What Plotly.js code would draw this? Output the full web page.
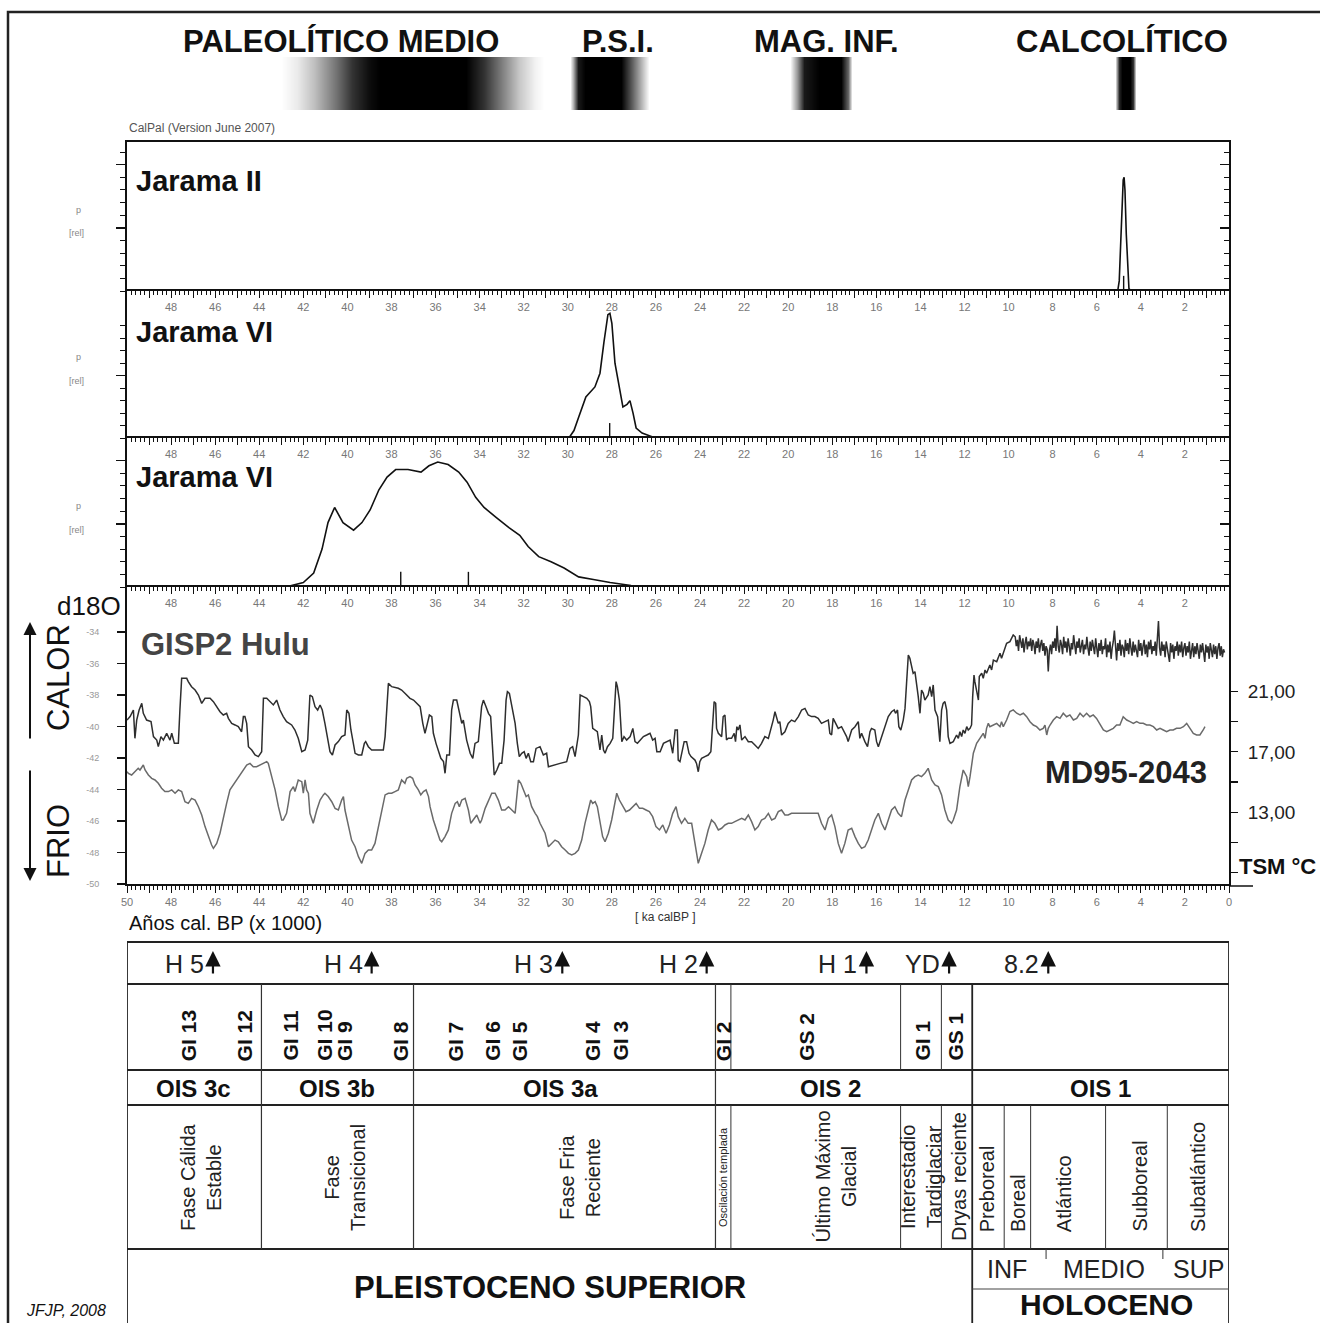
<!DOCTYPE html>
<html><head><meta charset="utf-8">
<script src="https://cdn.plot.ly/plotly-3.0.1.min.js"></script>
<style>html,body{margin:0;padding:0;background:#fff}</style>
</head><body>
<div id="chart" style="width:1320px;height:1323px"></div>
<script>
// ================= DATA =================
// Cultural periods (top gradient bars): age (ka cal BP) and shade intensity (0 white - 1 black)
const culturalNames = ['PALEOLÍTICO MEDIO', 'P.S.I.', 'MAG. INF.', 'CALCOLÍTICO'];
const culturalLabelAge = [40.3, 27.7, 18.24, 4.85];
const barAge   = [50, 43.0, 42.3, 41.5, 40.5, 39.8, 39.0, 38.5, 34.6, 33.8, 33.0, 32.2, 31.5, 31.1, 29.9, 29.75, 29.55, 29.2, 27.6, 27.2, 26.7, 26.3, 19.9, 19.6, 19.3, 18.6, 17.6, 17.3, 17.1, 5.15, 5.0, 4.85, 4.5, 4.35, 4.2, 0];
const barShade = [0, 0, 0.08, 0.25, 0.55, 0.8, 0.95, 1, 1, 0.8, 0.5, 0.22, 0.05, 0, 0, 0.3, 0.9, 1, 1, 0.7, 0.3, 0, 0, 0.4, 0.9, 1, 1, 0.6, 0, 0, 0.85, 1, 1, 0.8, 0, 0];

// Calibrated probability densities (relative)
const jarama2Age = [5.05, 4.98, 4.92, 4.86, 4.8, 4.76, 4.72, 4.66, 4.6, 4.54, 4.45];
const jarama2P   = [0, 0.08, 0.35, 0.65, 0.88, 0.9, 0.8, 0.45, 0.15, 0.02, 0];
const jarama2Median = [4.78];

const jarama6aAge = [29.95, 29.72, 29.5, 29.18, 28.77, 28.54, 28.36, 28.18, 28.09, 28.0, 27.86, 27.68, 27.5, 27.31, 27.18, 27.04, 26.9, 26.63, 26.18, 25.82];
const jarama6aP   = [0, 0.06, 0.17, 0.33, 0.41, 0.52, 0.77, 0.99, 1.0, 0.92, 0.6, 0.41, 0.25, 0.27, 0.30, 0.2, 0.08, 0.04, 0.01, 0];
const jarama6aMedian = [28.1];

const jarama6bAge = [42.8, 42.0, 41.53, 41.15, 40.88, 40.58, 40.2, 39.72, 39.34, 38.97, 38.57, 38.2, 37.81, 37.25, 36.66, 36.3, 35.9, 35.43, 34.95, 34.57, 34.18, 33.8, 33.24, 32.67, 32.18, 31.8, 31.32, 30.76, 30.17, 29.51, 28.84, 28.08, 27.13, 25.8];
const jarama6bP   = [0, 0.035, 0.11, 0.3, 0.51, 0.63, 0.51, 0.45, 0.51, 0.61, 0.77, 0.87, 0.93, 0.93, 0.91, 0.96, 0.99, 0.97, 0.91, 0.83, 0.71, 0.63, 0.55, 0.47, 0.41, 0.32, 0.24, 0.2, 0.15, 0.08, 0.06, 0.035, 0.012, 0];
const jarama6bMedian = [37.58, 34.51];

// GISP2 d18O (per mil) : [age ka, d18O]
const gisp2Series = [
[50.0,-39.59],[49.86,-39.37],[49.71,-38.95],[49.64,-40.75],[49.56,-39.59],[49.45,-38.95],[49.33,-38.53],[49.26,-39.16],[49.11,-39.59],[48.91,-39.69],[48.8,-40.64],[48.65,-40.86],[48.58,-41.28],[48.46,-40.64],[48.35,-40.86],[48.2,-40.43],[48.05,-40.86],[47.97,-40.43],[47.85,-41.07],[47.67,-41.07],[47.6,-38.95],[47.52,-36.94],[47.29,-36.94],[47.22,-37.15],[47.07,-37.47],[46.91,-37.68],[46.76,-38.0],[46.61,-38.53],[46.46,-38.21],[46.23,-38.21],[46.08,-38.42],[45.93,-38.74],[45.78,-39.06],[45.63,-39.27],[45.48,-39.16],[45.4,-39.48],[45.25,-39.8],[45.1,-39.9],[44.95,-40.01],[44.8,-40.33],[44.72,-39.37],[44.65,-39.37],[44.57,-39.8],[44.49,-41.28],[44.34,-41.49],[44.19,-41.81],[44.04,-41.91],[43.89,-41.6],[43.81,-38.21],[43.66,-38.21],[43.51,-38.42],[43.36,-38.63],[43.21,-38.32],[43.06,-38.95],[42.91,-39.37],[42.76,-39.69],[42.53,-39.9],[42.38,-40.22],[42.23,-40.75],[42.07,-41.6],[41.92,-41.49],[41.8,-40.86],[41.7,-38.0],[41.59,-38.1],[41.47,-38.74],[41.35,-38.95],[41.24,-38.63],[41.14,-38.95],[41.02,-39.8],[40.94,-40.43],[40.87,-40.86],[40.79,-41.6],[40.68,-41.81],[40.56,-41.17],[40.41,-40.96],[40.26,-40.64],[40.11,-40.54],[40.03,-38.95],[39.93,-39.16],[39.84,-40.22],[39.73,-41.07],[39.65,-41.7],[39.5,-41.81],[39.35,-41.81],[39.23,-41.07],[39.17,-40.96],[39.05,-41.28],[38.9,-41.49],[38.37,-41.49],[38.29,-40.64],[38.14,-37.26],[37.99,-37.47],[37.69,-37.57],[37.54,-37.68],[37.39,-37.89],
[37.31,-38.0],[37.16,-38.21],[37.0,-38.32],[36.85,-38.53],[36.7,-38.74],[36.58,-39.8],[36.48,-40.43],[36.37,-39.8],[36.28,-39.27],[36.17,-39.37],[36.1,-40.43],[35.98,-41.07],[35.87,-41.49],[35.76,-42.02],[35.64,-42.23],[35.57,-42.97],[35.49,-41.81],[35.37,-41.81],[35.27,-38.95],[35.19,-38.32],[35.04,-38.32],[34.92,-39.16],[34.81,-39.8],[34.74,-39.59],[34.66,-40.43],[34.59,-40.86],[34.43,-41.7],[34.31,-42.02],[34.21,-41.07],[34.06,-40.96],[33.91,-38.74],[33.83,-38.32],[33.71,-38.74],[33.6,-39.16],[33.5,-39.37],[33.41,-41.91],[33.34,-43.08],[33.22,-42.76],[33.1,-42.34],[33.0,-42.34],[32.89,-40.86],[32.8,-38.32],[32.74,-37.79],[32.65,-37.89],[32.54,-38.74],[32.39,-39.8],[32.29,-41.07],[32.2,-41.91],[32.09,-41.7],[31.98,-41.6],[31.89,-42.02],[31.79,-41.7],[31.68,-42.23],[31.56,-42.23],[31.44,-41.39],[31.26,-41.28],[31.11,-41.81],[30.96,-41.7],[30.88,-42.55],[30.65,-42.44],[30.35,-42.34],[30.05,-42.23],[29.9,-41.39],[29.78,-41.28],[29.67,-41.91],[29.52,-40.54],[29.44,-38.0],[29.29,-38.1],[29.14,-38.21],[29.02,-38.42],[28.96,-38.74],[28.87,-40.12],[28.76,-40.22],[28.66,-40.33],[28.54,-41.49],[28.46,-40.54],[28.38,-41.49],[28.31,-41.7],[28.2,-41.28],[28.08,-41.07],[27.96,-40.75],[27.86,-37.68],[27.81,-37.15],[27.75,-37.47],[27.66,-38.32],[27.55,-40.96],[27.45,-40.64],[27.33,-40.86],[27.17,-40.64],[27.05,-40.12],[26.95,-40.96],[26.84,-41.07],[26.72,-40.86],[26.57,-40.64],[26.42,-40.54],[26.27,-40.43],[26.15,-40.86],[26.04,-40.75],[25.96,-41.6],[25.81,-41.6],[25.66,-41.07],[25.51,-40.96],[25.36,-40.86],[25.24,-41.7],[25.13,-40.22],[25.03,-40.22],
[24.99,-42.13],[24.91,-42.23],[24.81,-41.49],[24.72,-40.96],[24.61,-40.96],[24.5,-41.7],[24.41,-41.91],[24.31,-42.02],[24.23,-42.13],[24.16,-42.34],[24.08,-42.87],[24.01,-42.23],[23.93,-42.02],[23.78,-41.91],[23.63,-41.81],[23.51,-41.6],[23.45,-40.01],[23.36,-38.42],[23.29,-38.53],[23.25,-40.12],[23.17,-40.43],[23.02,-40.64],[22.95,-39.37],[22.87,-39.27],[22.8,-40.86],[22.72,-40.75],[22.57,-40.75],[22.45,-40.43],[22.39,-40.96],[22.33,-40.01],[22.27,-40.22],[22.19,-39.9],[22.11,-40.86],[21.96,-40.64],[21.81,-40.96],[21.66,-40.96],[21.51,-41.17],[21.36,-41.39],[21.21,-41.07],[21.06,-40.64],[20.9,-40.75],[20.75,-40.01],[20.68,-39.59],[20.6,-39.06],[20.53,-39.37],[20.45,-39.8],[20.38,-39.69],[20.3,-40.54],[20.15,-40.33],[20.0,-39.8],[19.85,-39.59],[19.7,-39.69],[19.54,-39.37],[19.39,-38.95],[19.24,-38.85],[19.09,-39.27],[18.94,-39.37],[18.79,-39.37],[18.64,-39.48],[18.49,-39.8],[18.33,-39.69],[18.18,-39.59],[18.11,-40.43],[18.03,-40.54],[17.96,-39.48],[17.81,-39.9],[17.73,-40.12],[17.58,-40.01],[17.43,-40.43],[17.35,-40.64],[17.28,-40.96],[17.12,-40.22],[16.97,-40.01],[16.82,-39.69],[16.75,-40.75],[16.67,-40.43],[16.52,-40.96],[16.4,-41.28],[16.29,-40.33],[16.22,-40.12],[16.07,-40.22],[15.99,-40.96],[15.91,-41.28],[15.76,-40.64],[15.61,-40.12],[15.46,-39.37],[15.31,-39.06],[15.19,-38.95],[15.13,-39.16],[15.04,-38.95],[14.98,-40.01],[14.89,-40.22],[14.78,-39.59],[14.7,-38.85],[14.63,-37.26],[14.55,-35.46],[14.48,-35.67],[14.4,-36.09],[14.33,-36.62],[14.25,-36.52],[14.18,-37.47],[14.1,-38.1],[14.02,-39.16],[13.95,-37.68],[13.87,-37.89],[13.8,-38.32],[13.65,-38.0],[13.57,-37.47],[13.49,-38.1],[13.42,-37.36],[13.34,-38.95],[13.22,-39.37],[13.12,-40.96],[13.04,-38.95],[12.97,-38.53],[12.89,-38.42],[12.81,-38.95],[12.74,-40.64],[12.66,-41.07],
[12.51,-40.96],[12.36,-40.54],[12.28,-40.75],[12.21,-40.33],[12.13,-40.64],[12.06,-40.22],[11.98,-40.43],[11.9,-40.01],[11.83,-40.22],[11.75,-40.12],[11.68,-39.9],[11.63,-38.1],[11.57,-36.73],[11.53,-37.15],[11.45,-37.68],[11.37,-38.32],[11.33,-36.83],[11.22,-36.62],[11.15,-36.94],[11.07,-36.41],[11.0,-36.62],[10.92,-36.3],[10.85,-36.09],[10.77,-36.41],[10.69,-35.78],[10.54,-35.88],[10.39,-35.35],[10.32,-35.67],[10.16,-34.93],[10.09,-34.72],[9.94,-34.61],[9.79,-34.19],
[9.7,-34.3],[9.65,-34.9],[9.6,-34.5],[9.55,-35.2],[9.5,-34.2],[9.45,-34.6],[9.4,-35.0],[9.35,-34.4],[9.3,-35.3],[9.25,-34.7],[9.2,-34.3],[9.15,-35.1],[9.1,-34.6],[9.05,-34.9],[9.0,-34.4],[8.95,-35.2],[8.9,-34.5],[8.85,-34.8],[8.8,-35.4],[8.75,-34.6],[8.7,-35.0],[8.65,-34.4],[8.6,-35.3],[8.55,-34.8],[8.5,-34.5],[8.45,-35.2],[8.4,-34.7],[8.35,-35.5],[8.3,-34.9],[8.25,-35.1],[8.2,-36.5],[8.15,-35.2],[8.1,-34.8],[8.05,-35.4],[8.0,-34.6],[7.95,-35.0],[7.9,-34.4],[7.85,-35.2],[7.8,-33.6],[7.75,-34.9],[7.7,-35.3],[7.65,-34.5],[7.6,-34.8],[7.55,-35.4],[7.5,-34.3],[7.45,-35.0],[7.4,-34.6],[7.35,-35.3],[7.3,-34.4],[7.25,-34.9],[7.2,-35.5],[7.15,-34.7],[7.1,-35.1],[7.05,-34.2],[7.0,-34.8],[6.95,-35.4],[6.9,-34.6],[6.85,-35.0],[6.8,-34.4],[6.75,-35.3],[6.7,-34.9],[6.65,-34.5],[6.6,-35.4],[6.55,-34.8],[6.5,-35.1],[6.45,-34.3],[6.4,-35.0],[6.35,-35.5],[6.3,-34.6],[6.25,-35.2],[6.2,-34.5],[6.15,-34.9],[6.1,-35.4],[6.05,-34.4],[6.0,-35.0],[5.95,-35.6],[5.9,-34.7],[5.85,-35.2],[5.8,-34.5],[5.75,-35.4],[5.7,-34.9],[5.65,-35.1],[5.6,-34.4],[5.55,-35.6],[5.5,-34.8],[5.45,-35.3],[5.4,-34.6],[5.35,-35.7],[5.3,-35.0],[5.25,-34.6],[5.2,-33.9],[5.15,-35.0],[5.1,-35.8],[5.05,-34.7],[5.0,-35.2],[4.95,-34.5],[4.9,-35.5],[4.85,-34.8],[4.8,-35.0],[4.75,-35.6],[4.7,-34.5],[4.65,-35.2],[4.6,-34.7],[4.55,-35.4],[4.5,-34.4],[4.45,-35.0],[4.4,-35.5],[4.35,-34.6],[4.3,-35.3],[4.25,-34.8],[4.2,-35.1],[4.15,-35.6],[4.1,-34.5],[4.05,-35.2],[4.0,-34.7],[3.95,-35.5],[3.9,-34.9],[3.85,-34.5],[3.8,-35.4],[3.75,-34.8],[3.7,-35.6],[3.65,-34.6],[3.6,-35.1],[3.55,-34.5],[3.5,-35.4],[3.45,-34.9],[3.4,-35.2],[3.35,-34.6],[3.3,-35.5],[3.25,-34.4],[3.2,-33.3],[3.15,-35.0],[3.1,-35.5],[3.05,-34.6],[3.0,-35.2],[2.95,-34.8],[2.9,-35.6],[2.85,-34.6],[2.8,-35.1],[2.75,-35.4],[2.7,-35.9],[2.65,-34.7],[2.6,-35.3],[2.55,-34.8],[2.5,-35.7],[2.45,-34.9],[2.4,-35.2],[2.35,-34.6],[2.3,-35.5],[2.25,-34.8],[2.2,-35.3],[2.15,-34.6],[2.1,-35.6],[2.05,-35.0],[2.0,-34.7],[1.95,-35.5],[1.9,-34.9],[1.85,-35.3],[1.8,-34.6],[1.75,-35.7],[1.7,-35.0],[1.65,-34.7],[1.6,-35.6],[1.55,-34.9],[1.5,-35.4],[1.45,-34.7],[1.4,-35.2],[1.35,-35.7],[1.3,-34.8],[1.25,-35.3],[1.2,-34.7],[1.15,-35.5],[1.1,-35.9],[1.05,-34.8],[1.0,-35.3],[0.95,-34.9],[0.9,-35.7],[0.85,-34.7],[0.8,-35.2],[0.75,-35.6],[0.7,-34.8],[0.65,-35.4],[0.6,-34.9],[0.55,-35.7],[0.5,-35.0],[0.45,-34.7],[0.4,-35.5],[0.35,-34.9],[0.3,-35.6],[0.25,-35.1],[0.2,-35.3]
];

// MD95-2043 SST (°C) : [age ka, SST]
const md95Series = [
[50.0,15.69],[49.94,15.58],[49.79,15.47],[49.64,15.69],[49.49,15.91],[49.41,15.8],[49.33,16.02],[49.26,16.13],[49.18,15.8],[49.03,15.47],[48.88,15.25],[48.73,15.14],[48.58,14.92],[48.43,14.59],[48.28,14.37],[48.12,14.37],[47.97,14.48],[47.82,14.26],[47.67,14.48],[47.52,14.37],[47.37,13.7],[47.22,13.59],[47.07,13.92],[46.91,13.81],[46.76,13.37],[46.61,12.82],[46.46,12.05],[46.31,11.39],[46.16,10.83],[46.08,10.61],[45.93,10.94],[45.78,11.61],[45.63,12.71],[45.48,13.59],[45.33,14.48],[45.17,14.81],[45.02,15.14],[44.87,15.47],[44.72,15.8],[44.57,16.13],[44.42,16.24],[44.27,16.02],[44.12,16.02],[43.97,16.13],[43.81,16.24],[43.66,16.35],[43.59,16.24],[43.44,15.36],[43.28,14.48],[43.13,13.37],[42.98,12.49],[42.91,12.49],[42.76,12.93],[42.68,13.59],[42.6,14.37],[42.45,14.7],[42.38,14.37],[42.23,15.14],[42.07,15.03],[42.0,14.26],[41.92,15.14],[41.85,14.48],[41.77,14.26],[41.7,12.93],[41.55,12.27],[41.39,13.15],[41.24,13.81],[41.09,14.15],[41.02,14.26],[40.87,14.04],[40.71,13.7],[40.56,13.26],[40.41,13.15],[40.26,13.81],[40.18,14.04],[40.11,13.15],[39.96,12.05],[39.81,11.16],[39.65,10.72],[39.5,10.06],[39.35,9.62],[39.2,10.28],[39.05,10.5],[38.9,10.5],[38.75,10.94],[38.6,12.05],[38.44,13.15],[38.29,14.15],[38.14,14.26],[37.99,14.26],[37.84,14.37],[37.69,14.48],[37.54,15.14],[37.39,14.92],
[37.31,15.25],[37.16,15.36],[37.04,15.25],[36.93,14.81],[36.78,14.48],[36.67,14.15],[36.55,14.37],[36.43,14.48],[36.32,14.04],[36.25,13.37],[36.1,12.49],[35.95,11.83],[35.8,11.16],[35.72,11.05],[35.57,11.39],[35.42,11.83],[35.27,12.93],[35.11,13.59],[35.01,13.7],[34.92,13.37],[34.81,13.81],[34.66,13.92],[34.51,13.15],[34.4,12.27],[34.28,12.49],[34.13,12.82],[33.98,12.27],[33.91,12.49],[33.75,13.26],[33.6,13.81],[33.45,14.26],[33.3,14.26],[33.15,13.81],[33.0,13.15],[32.85,13.15],[32.69,13.37],[32.54,13.15],[32.39,12.93],[32.24,15.14],[32.13,14.92],[32.01,14.48],[31.89,14.04],[31.79,14.15],[31.64,13.37],[31.48,12.93],[31.38,12.71],[31.26,12.27],[31.14,11.94],[31.03,11.61],[30.88,10.72],[30.73,10.94],[30.58,11.16],[30.43,11.05],[30.28,10.72],[30.12,10.5],[29.97,10.28],[29.82,10.17],[29.67,10.28],[29.52,10.5],[29.37,11.16],[29.22,12.27],[29.06,13.15],[28.96,13.81],[28.87,13.59],[28.76,13.7],[28.66,13.37],[28.54,12.27],[28.42,11.39],[28.31,11.05],[28.16,11.61],[28.01,12.49],[27.86,13.81],[27.78,14.26],[27.66,13.81],[27.51,13.37],[27.36,13.04],[27.2,13.15],[27.05,13.37],[26.9,13.59],[26.75,13.26],[26.6,13.26],[26.45,13.15],[26.3,13.04],[26.15,12.71],[26.0,12.05],[25.84,11.83],[25.69,12.16],[25.54,11.61],[25.39,12.16],[25.24,12.93],[25.09,13.37],
[24.99,12.71],[24.84,12.27],[24.69,12.6],[24.54,12.27],[24.38,12.27],[24.23,10.94],[24.08,9.62],[23.93,10.28],[23.78,10.94],[23.63,11.83],[23.48,12.49],[23.33,12.27],[23.17,11.83],[23.02,11.94],[22.87,12.16],[22.72,12.27],[22.57,12.27],[22.42,12.38],[22.27,12.49],[22.11,12.6],[21.96,12.49],[21.81,12.82],[21.66,12.38],[21.51,11.83],[21.36,12.05],[21.21,12.49],[21.06,12.6],[20.9,12.93],[20.75,12.49],[20.6,12.6],[20.45,13.04],[20.3,13.15],[20.15,12.82],[20.0,12.82],[19.85,12.93],[19.5,12.93],[19.0,12.93],[18.64,12.93],[18.49,12.27],[18.33,11.83],[18.18,12.6],[18.03,12.82],[17.88,12.05],[17.73,10.94],[17.58,10.28],[17.43,10.94],[17.28,11.83],[17.12,11.94],[16.97,11.39],[16.82,10.94],[16.67,10.61],[16.52,10.72],[16.37,11.16],[16.22,11.83],[16.07,12.49],[15.91,12.93],[15.76,12.27],[15.61,11.83],[15.46,12.49],[15.31,13.15],[15.16,13.37],[15.01,12.93],[14.86,12.71],[14.7,13.81],[14.55,14.48],[14.4,15.14],[14.25,15.36],[14.1,15.47],[13.95,15.36],[13.8,15.58],[13.65,15.91],[13.49,15.14],[13.34,14.81],[13.19,14.7],[13.04,14.15],[12.89,13.15],[12.74,12.49],[12.59,12.27],
[12.51,12.49],[12.36,13.15],[12.21,14.7],[12.06,15.8],[11.9,15.36],[11.83,14.7],[11.75,15.36],[11.68,16.24],[11.6,16.91],[11.45,17.57],[11.3,17.9],[11.22,18.12],[11.15,18.23],[11.07,17.9],[11.0,18.56],[10.92,18.89],[10.85,18.67],[10.69,18.78],[10.54,18.89],[10.39,18.67],[10.32,19.0],[10.24,18.67],[10.09,19.11],[9.94,19.67],[9.79,19.78],[9.63,19.56],[9.48,19.45],[9.33,19.56],[9.18,19.33],[9.03,19.0],[8.88,18.78],[8.73,18.67],[8.58,18.45],[8.43,18.56],[8.35,18.78],[8.27,18.12],[8.2,18.56],[8.12,18.78],[7.97,19.11],[7.82,19.33],[7.67,19.22],[7.52,19.56],[7.37,19.33],[7.22,19.45],[7.06,19.11],[6.91,19.22],[6.76,19.56],[6.61,19.33],[6.46,19.56],[6.31,19.33],[6.16,19.45],[6.01,19.22],[5.85,18.78],[5.7,18.45],[5.55,18.34],[5.4,18.45],[5.25,18.56],[5.1,18.78],[4.95,18.78],[4.8,19.33],[4.64,19.11],[4.49,19.0],[4.34,18.89],[4.19,19.0],[4.04,18.89],[3.89,18.89],[3.74,18.78],[3.59,18.78],[3.43,18.67],[3.28,18.45],[3.13,18.56],[2.98,18.45],[2.83,18.34],[2.68,18.45],[2.53,18.45],[2.38,18.56],[2.22,18.56],[2.07,18.67],[1.92,18.89],[1.77,18.56],[1.62,18.23],[1.47,18.12],[1.32,18.12],[1.17,18.45],[1.09,18.67]
];

// Chronostratigraphic table
const heinrichNames = ['H 5', 'H 4', 'H 3', 'H 2', 'H 1', 'YD', '8.2'];
const heinrichAges  = [46.1, 38.9, 30.25, 23.7, 16.45, 12.7, 8.2];
const giNames = ['GI 13', 'GI 12', 'GI 11', 'GI 10', 'GI 9', 'GI 8', 'GI 7', 'GI 6', 'GI 5', 'GI 4', 'GI 3', 'GI 2', 'GS 2', 'GI 1', 'GS 1'];
const giAges  = [47.2, 44.65, 42.6, 41.05, 40.15, 37.6, 35.1, 33.45, 32.2, 28.9, 27.65, 22.95, 19.2, 13.95, 12.45];
const giBounds = [22.6, 14.9, 13.05];
const oisNames = ['OIS 3c', 'OIS 3b', 'OIS 3a', 'OIS 2', 'OIS 1'];
const oisAges  = [47.0, 40.45, 30.35, 18.1, 5.85];
const oisBounds = [43.9, 37.0, 23.3];
const holoceneStart = 11.65;
const phaseNames = ['Fase Cálida<br>Estable', 'Fase<br>Transicional', 'Fase Fria<br>Reciente', 'Oscilación templada', 'Último Máximo<br>Glacial', 'Interestadio<br>Tardiglaciar', 'Dryas reciente', 'Preboreal', 'Boreal', 'Atlántico', 'Subboreal', 'Subatlántico'];
const phaseAges  = [46.64, 40.11, 29.45, 22.96, 17.85, 13.97, 12.25, 10.99, 9.57, 7.5, 4.08, 1.41];
const phaseBounds = [22.6, 14.9, 13.05, 10.2, 9.0, 5.6, 2.8];
const holoSubNames = ['INF', 'MEDIO', 'SUP'];
const holoSubAges  = [10.07, 5.67, 1.4];
const holoSubBounds = [8.3, 3.0];
const epochNames = ['PLEISTOCENO SUPERIOR', 'HOLOCENO'];
const epochAges  = [30.8, 5.55];

// ================= LAYOUT =================
const W = 1320, H = 1323;
const X0 = 127 / W, X1 = 1229 / W;
const Y = py => 1 - py / H;
const PX = px => px / W;
const FONT = "'Liberation Sans', Arial, sans-serif";
const INK = '#111';

const intTicks = []; for (let v = 0; v <= 50; v++) intTicks.push(v);
const bottomText = intTicks.map(v => v % 2 === 0 ? String(v) : '');
const topText = intTicks.map(v => (v % 2 === 0 && v > 0 && v < 50) ? String(v) : '');

function topAxis(anchor, labels, extra) {
  const a = {
    domain: [X0, X1], range: [50, 0], anchor: anchor, side: 'top',
    showline: true, linewidth: 2, linecolor: INK, showgrid: false, zeroline: false, fixedrange: true,
    ticks: labels ? 'inside' : '', ticklen: 7, tickwidth: 1, tickcolor: INK,
    tickmode: 'array', tickvals: intTicks, ticktext: topText,
    showticklabels: labels, ticklabelposition: 'inside', ticklabelstandoff: 5,
    tickfont: {size: 11, color: '#777', family: FONT}
  };
  if (labels) a.minor = {dtick: 0.2, ticklen: 4, ticks: 'inside', tickcolor: INK, tickwidth: 1};
  return Object.assign(a, extra || {});
}
function densAxis(lo, hi, anchor, extra) {
  return Object.assign({
    domain: [Y(lo), Y(hi)], range: [0, 1.18], anchor: anchor,
    showline: true, linewidth: 2, linecolor: INK, showgrid: false, zeroline: false, fixedrange: true,
    ticks: 'outside', ticklen: 9, tickwidth: 1.3, tickcolor: INK,
    tickmode: 'array', tickvals: [0.5, 1.0], showticklabels: false,
    minor: {dtick: 0.1, ticklen: 5, ticks: 'outside', tickcolor: INK, tickwidth: 1}
  }, extra || {});
}

const traces = [];
// gradient bars
traces.push({type: 'heatmap', x: barAge, y: [0, 1], z: [barShade, barShade], xaxis: 'x6', yaxis: 'y6',
  colorscale: [[0, '#ffffff'], [1, '#000000']], zmin: 0, zmax: 1, zsmooth: 'best', showscale: false, hoverinfo: 'skip'});
// densities
const dens = {mode: 'lines', line: {color: INK, width: 1.6}, hoverinfo: 'skip'};
traces.push(Object.assign({type: 'scatter', x: jarama2Age, y: jarama2P, xaxis: 'x2', yaxis: 'y2'}, dens));
traces.push(Object.assign({type: 'scatter', x: jarama6aAge, y: jarama6aP, xaxis: 'x3', yaxis: 'y3'}, dens));
traces.push(Object.assign({type: 'scatter', x: jarama6bAge, y: jarama6bP, xaxis: 'x4', yaxis: 'y4'}, dens));
function medianTrace(arr, xa, ya) {
  const x = [], y = [];
  arr.forEach(m => { x.push(m, m, null); y.push(0, 0.12, null); });
  return {type: 'scatter', mode: 'lines', x, y, xaxis: xa, yaxis: ya, line: {color: INK, width: 1.4}, hoverinfo: 'skip'};
}
traces.push(medianTrace(jarama2Median, 'x2', 'y7'));
traces.push(medianTrace(jarama6aMedian, 'x3', 'y8'));
traces.push(medianTrace(jarama6bMedian, 'x4', 'y9'));
// climate curves
traces.push({type: 'scatter', mode: 'lines', x: gisp2Series.map(p => p[0]), y: gisp2Series.map(p => p[1]),
  xaxis: 'x', yaxis: 'y', line: {color: '#2e2e2e', width: 1.5}, hoverinfo: 'skip'});
traces.push({type: 'scatter', mode: 'lines', x: md95Series.map(p => p[0]), y: md95Series.map(p => p[1]),
  xaxis: 'x5', yaxis: 'y5', line: {color: '#6a6a6a', width: 1.5}, hoverinfo: 'skip'});

// ---------- shapes ----------
const shapes = [];
function hline(py, a0, a1, w, c) { shapes.push({type: 'line', xref: 'x', yref: 'paper', x0: a0, x1: a1, y0: Y(py), y1: Y(py), line: {color: c || '#222', width: w || 1.8}}); }
function vline(age, p0, p1, w, c) { shapes.push({type: 'line', xref: 'x', yref: 'paper', x0: age, x1: age, y0: Y(p0), y1: Y(p1), line: {color: c || '#333', width: w || 1.2}}); }
// outer frame
shapes.push({type: 'rect', xref: 'paper', yref: 'paper', x0: PX(8), x1: 1.02, y0: Y(12), y1: -0.02, line: {color: '#222', width: 2.5}});
// underline of the TSM axis end
shapes.push({type: 'line', xref: 'paper', yref: 'paper', x0: X1, x1: PX(1253), y0: Y(886), y1: Y(886), line: {color: INK, width: 1.5}});
// table
[942, 984, 1070, 1105, 1249].forEach(py => hline(py, 50, 0, 1.8));
vline(50, 942, 1340, 1.8, '#222'); vline(0, 942, 1340, 1.8, '#222');
oisBounds.forEach(a => vline(a, 984, 1249));
vline(holoceneStart, 984, 1340, 1.8, '#222');
giBounds.forEach(a => vline(a, 984, 1070, 1));
phaseBounds.forEach(a => vline(a, 1105, 1249, 1));
hline(1289, holoceneStart, 0, 1.2, '#444');
holoSubBounds.forEach(a => vline(a, 1249, 1259, 1));

// ---------- annotations ----------
const ann = [];
function T(text, x, y, o) {
  ann.push(Object.assign({text: text, x: x, y: y, xref: 'paper', yref: 'paper', showarrow: false,
    xanchor: 'center', yanchor: 'middle', font: {family: FONT, size: 12, color: INK}}, o || {}));
}
culturalNames.forEach((n, i) => T('<b>' + n + '</b>', culturalLabelAge[i], Y(41), {xref: 'x', font: {family: FONT, size: 31, color: INK}}));
T('CalPal (Version June 2007)', PX(127), Y(128), {xanchor: 'left', font: {family: FONT, size: 12, color: '#555'}});
T('<b>Jarama II</b>', PX(134), Y(181), {xanchor: 'left', font: {family: FONT, size: 29, color: INK}});
T('<b>Jarama VI</b>', PX(134), Y(332), {xanchor: 'left', font: {family: FONT, size: 29, color: INK}});
T('<b>Jarama VI</b>', PX(134), Y(477), {xanchor: 'left', font: {family: FONT, size: 29, color: INK}});
[[210, 233], [357, 381], [506, 530]].forEach(p => {
  T('p', PX(78), Y(p[0]), {font: {family: FONT, size: 9, color: '#888'}});
  T('[rel]', PX(76), Y(p[1]), {font: {family: FONT, size: 9, color: '#888'}});
});
T('<b>GISP2 Hulu</b>', PX(139), Y(645), {xanchor: 'left', font: {family: FONT, size: 31, color: '#444'}});
T('<b>MD95-2043</b>', PX(1209), Y(772), {xanchor: 'right', font: {family: FONT, size: 31, color: '#222'}});
T('d18O', PX(123), Y(606), {xanchor: 'right', font: {family: FONT, size: 26, color: INK}});
T('<b>TSM °C</b>', PX(1318), Y(866), {xanchor: 'right', font: {family: FONT, size: 22, color: INK}});
T('CALOR', PX(58), Y(678), {textangle: -90, font: {family: FONT, size: 31, color: INK}});
T('FRIO', PX(58), Y(841), {textangle: -90, font: {family: FONT, size: 31, color: INK}});
ann.push({x: PX(30), y: Y(622), xref: 'paper', yref: 'paper', ax: 0, ay: 118, text: '', showarrow: true, arrowhead: 2, arrowsize: 1.3, arrowwidth: 2, arrowcolor: INK});
ann.push({x: PX(30), y: Y(881), xref: 'paper', yref: 'paper', ax: 0, ay: -112, text: '', showarrow: true, arrowhead: 2, arrowsize: 1.3, arrowwidth: 2, arrowcolor: INK});
T('Años cal. BP (x 1000)', PX(127), Y(923), {xanchor: 'left', font: {family: FONT, size: 20, color: INK}});
T('[ ka calBP ]', PX(665), Y(917), {font: {family: FONT, size: 12, color: '#333'}});
T('<i>JFJP, 2008</i>', PX(24), Y(1310), {xanchor: 'left', font: {family: FONT, size: 16, color: INK}});

// table texts
heinrichNames.forEach((n, i) => {
  T(n, heinrichAges[i], Y(964), {xref: 'x', xanchor: 'right', xshift: -7, font: {family: FONT, size: 25, color: '#222'}});
  ann.push({x: heinrichAges[i], y: Y(951), xref: 'x', yref: 'paper', ax: 0, ay: 24, text: '', showarrow: true,
    arrowhead: 2, arrowsize: 1.4, arrowwidth: 2.2, arrowcolor: INK});
});
giNames.forEach((n, i) => T('<b>' + n + '</b>', giAges[i], Y(1063), {xref: 'x', textangle: -90, yanchor: 'bottom', font: {family: FONT, size: 21, color: INK}}));
oisNames.forEach((n, i) => T('<b>' + n + '</b>', oisAges[i], Y(1088), {xref: 'x', font: {family: FONT, size: 24, color: INK}}));
phaseNames.forEach((n, i) => {
  const small = n === 'Oscilación templada';
  const holo = i >= 7;
  T(n, phaseAges[i], holo ? Y(1234) : Y(1177), {xref: 'x', textangle: -90, yanchor: holo ? 'bottom' : 'middle',
    font: {family: FONT, size: small ? 11 : 20, color: '#222'}});
});
T('<b>' + epochNames[0] + '</b>', epochAges[0], Y(1287), {xref: 'x', font: {family: FONT, size: 31, color: INK}});
T('<b>' + epochNames[1] + '</b>', epochAges[1], Y(1304), {xref: 'x', font: {family: FONT, size: 30, color: INK}});
holoSubNames.forEach((n, i) => T(n, holoSubAges[i], Y(1269), {xref: 'x', font: {family: FONT, size: 25, color: '#222'}}));

const d18Ticks = [-50, -48, -46, -44, -42, -40, -38, -36, -34];
const layout = {
  width: W, height: H, margin: {l: 0, r: 0, t: 0, b: 0},
  paper_bgcolor: '#ffffff', plot_bgcolor: 'rgba(0,0,0,0)', showlegend: false,
  font: {family: FONT, color: INK},
  xaxis: {domain: [X0, X1], range: [50, 0], anchor: 'y', side: 'bottom',
    showline: true, linewidth: 2, linecolor: INK, showgrid: false, zeroline: false, fixedrange: true,
    ticks: 'outside', ticklen: 7, tickwidth: 1, tickcolor: INK,
    tickmode: 'array', tickvals: intTicks, ticktext: bottomText, tickfont: {size: 11, color: '#777'},
    minor: {dtick: 0.2, ticklen: 4, ticks: 'outside', tickcolor: INK, tickwidth: 1}},
  xaxis2: topAxis('y2', false),
  xaxis3: topAxis('y3', true),
  xaxis4: topAxis('y4', true),
  xaxis5: topAxis('y', true, {overlaying: 'x'}),
  xaxis6: {domain: [X0, X1], range: [50, 0], anchor: 'y6', visible: false, fixedrange: true},
  yaxis: {domain: [Y(884), Y(587)], range: [-50, -31.14], anchor: 'x',
    showline: true, linewidth: 2, linecolor: INK, showgrid: false, zeroline: false, fixedrange: true,
    ticks: 'outside', ticklen: 8, tickwidth: 1.2, tickcolor: INK,
    tickmode: 'array', tickvals: d18Ticks, ticktext: d18Ticks.map(String),
    tickfont: {size: 9, color: '#999'}, ticklabelstandoff: 16},
  yaxis2: densAxis(291, 142, 'x2'),
  yaxis3: densAxis(438, 291, 'x3'),
  yaxis4: densAxis(587, 438, 'x4'),
  yaxis5: {domain: [Y(884), Y(587)], range: [8.25, 27.92], overlaying: 'y', anchor: 'x5', side: 'right',
    showline: true, linewidth: 2, linecolor: INK, showgrid: false, zeroline: false, fixedrange: true,
    ticks: 'outside', ticklen: 7, tickwidth: 1.2, tickcolor: INK,
    tickmode: 'array', tickvals: [9, 11, 13, 15, 17, 19, 21], ticktext: ['', '', '13,00', '', '17,00', '', '21,00'],
    tickfont: {size: 19, color: '#222'}, ticklabelstandoff: 6},
  yaxis6: {domain: [Y(110), Y(57)], range: [-0.5, 1.5], anchor: 'x6', visible: false, fixedrange: true},
  yaxis7: densAxis(291, 142, 'x2', {overlaying: 'y2', side: 'right', ticks: 'inside', minor: {dtick: 0.1, ticklen: 5, ticks: 'inside', tickcolor: INK, tickwidth: 1}}),
  yaxis8: densAxis(438, 291, 'x3', {overlaying: 'y3', side: 'right', ticks: 'inside', minor: {dtick: 0.1, ticklen: 5, ticks: 'inside', tickcolor: INK, tickwidth: 1}}),
  yaxis9: densAxis(587, 438, 'x4', {overlaying: 'y4', side: 'right', ticks: 'inside', minor: {dtick: 0.1, ticklen: 5, ticks: 'inside', tickcolor: INK, tickwidth: 1}}),
  shapes: shapes, annotations: ann
};

Plotly.newPlot('chart', traces, layout, {staticPlot: true, displayModeBar: false});
</script>
</body></html>
